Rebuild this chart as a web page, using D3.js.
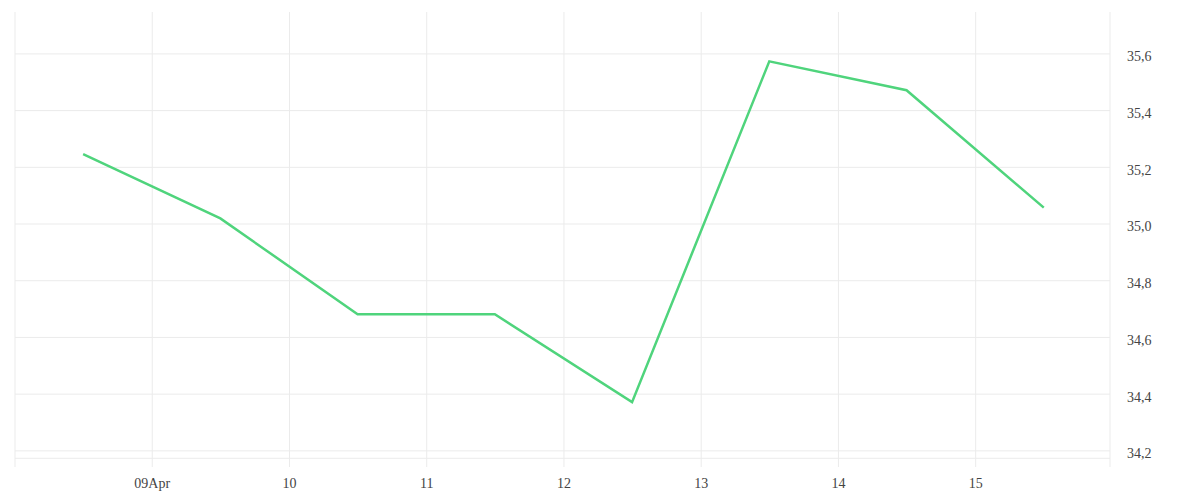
<!DOCTYPE html>
<html>
<head>
<meta charset="utf-8">
<script src="https://cdn.jsdelivr.net/npm/d3@7"></script>
<style>
  body { margin: 0; background: #fff; }
  svg { display: block; font-family: "Liberation Serif", serif; }
</style>
</head>
<body>
<svg id="chart" width="1200" height="500"></svg>
<script>
(function() {
    var width = 1200, height = 500

    // daily readings, plotted at noon of each day
    const days = ["2024-04-08", "2024-04-09", "2024-04-10", "2024-04-11", "2024-04-12", "2024-04-13", "2024-04-14", "2024-04-15"];
    const values = [35.245, 35.018, 34.68, 34.68, 34.37, 35.572, 35.47, 35.056];
    const xTickDays = ["2024-04-09", "2024-04-10", "2024-04-11", "2024-04-12", "2024-04-13", "2024-04-14", "2024-04-15"];
    const xTickLabels = ["09Apr", "10", "11", "12", "13", "14", "15"];
    const yTicks = [34.2, 34.4, 34.6, 34.8, 35.0, 35.2, 35.4, 35.6];

    const parseDay = d3.utcParse("%Y-%m-%d");
    const noon = (s) => d3.utcHour.offset(parseDay(s), 12);

    const left = 15, right = 1110, top = 12, bottom = 467;

    let x = d3.scaleUtc()
    .domain([parseDay("2024-04-08"), parseDay("2024-04-16")])
    .range([14.5, 1112.4]);

    let y = d3.scaleLinear()
    .domain([34.172, 35.746])
    .range([458.3, top]);

    const commaFmt = d3.formatLocale({decimal: ",", thousands: ".", grouping: [3], currency: ["", ""]}).format(".1f");

    const svg = d3.select("#chart");

    // frame edges and baseline
    svg.append("g")
    .selectAll("line")
    .data([left, right])
    .join("line")
    .attr("x1", (d) => d).attr("x2", (d) => d)
    .attr("y1", top).attr("y2", bottom)
    .attr("stroke", "#ebebeb")
    .attr("stroke-width", 1);

    svg.append("line")
    .attr("x1", left).attr("x2", right)
    .attr("y1", y.range()[0]).attr("y2", y.range()[0])
    .attr("stroke", "#ebebeb")
    .attr("stroke-width", 1);

    // x axis with vertical gridlines
    const tickDates = xTickDays.map(parseDay);
    let xAxis = svg.append("g")
    .attr("transform", `translate(0,${bottom})`)
    .call(d3.axisBottom(x)
        .tickValues(tickDates)
        .tickSize(-(bottom - top))
        .tickPadding(11)
        .tickFormat((d, i) => xTickLabels[i]));

    // y axis on the right with horizontal gridlines
    let yAxis = svg.append("g")
    .attr("transform", `translate(${right},0)`)
    .call(d3.axisRight(y)
        .tickValues(yTicks)
        .tickSize(-(right - left))
        .tickPadding(17)
        .tickFormat(commaFmt));

    [xAxis, yAxis].forEach((g) => {
        g.select(".domain").remove();
        g.selectAll(".tick line").attr("stroke", "#ebebeb");
        g.selectAll(".tick text")
        .attr("fill", "#444")
        .attr("font-size", "14px")
        .attr("font-family", "Liberation Serif, serif");
    });
    yAxis.selectAll(".tick text").attr("dy", "0.53em");

    // the series line
    let line = d3.line()
    .x((d) => x(noon(d.day)))
    .y((d) => y(d.value));

    svg.append("path")
    .datum(days.map((d, i) => ({day: d, value: values[i]})))
    .attr("d", line)
    .attr("fill", "none")
    .attr("stroke", "#4fd47c")
    .attr("stroke-width", 2.5)
    .attr("stroke-linejoin", "miter");
})()
</script>
</body>
</html>
